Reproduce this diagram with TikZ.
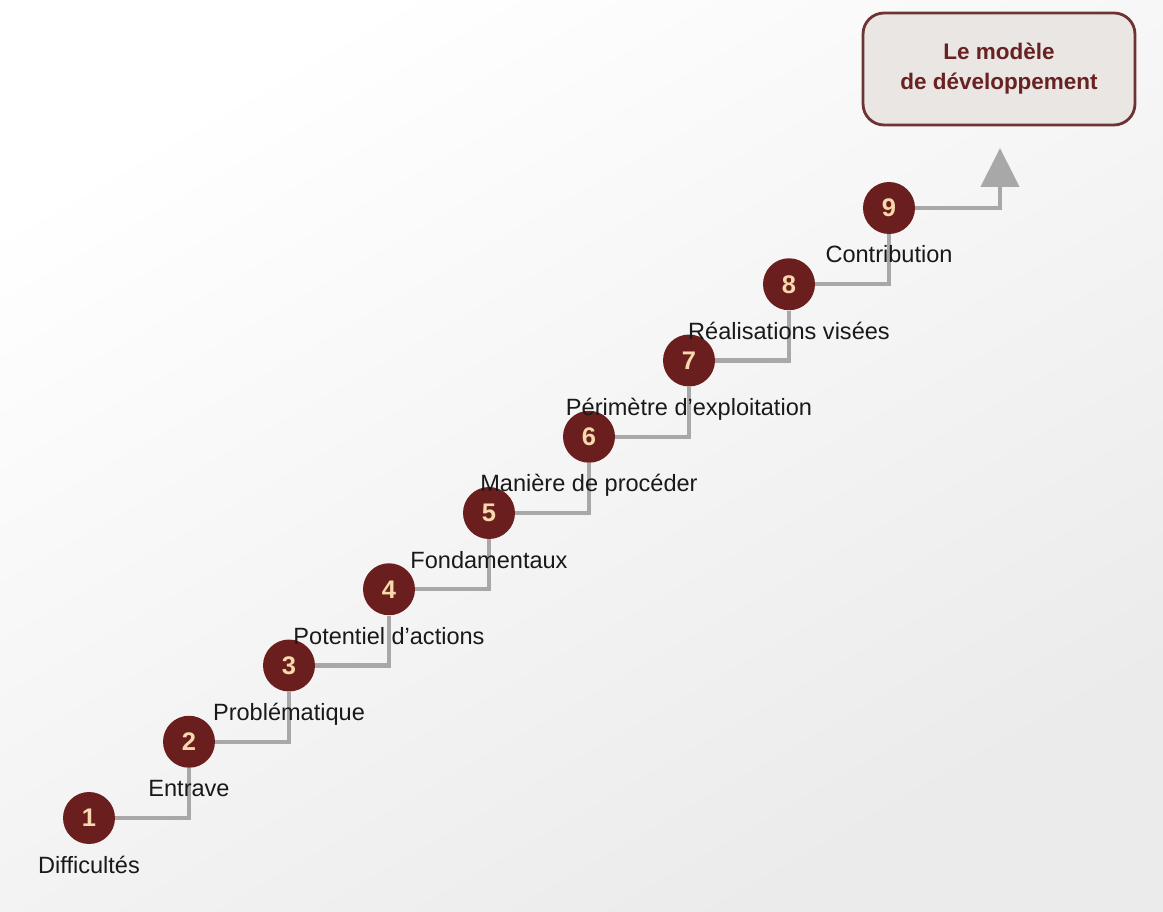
\documentclass[tikz,border=0pt]{standalone}
\usepackage{fontspec}
\setmainfont{Liberation Sans}
\usepackage{tikz}
\usetikzlibrary{arrows.meta,shapes}
\definecolor{stepred}{HTML}{6B1E1E}
\definecolor{stepnum}{HTML}{F8D9AE}
\definecolor{stairgray}{HTML}{A8A8A8}
\definecolor{boxline}{HTML}{6E3434}
\definecolor{boxfill}{HTML}{E9E6E4}
\definecolor{boxtext}{HTML}{682222}
\newcommand{\stepr}{0.52cm}
\newcommand{\stairw}{2.4pt}

\begin{document}
\begin{tikzpicture}[x=0.02cm,y=-0.02cm,
    stepdot/.style={circle, fill=stepred, minimum size=2*\stepr, inner sep=0pt,
        text=stepnum, font=\fontsize{14.5}{16}\selectfont\bfseries},
    steplabel/.style={anchor=base, font=\fontsize{13.4}{16}\selectfont, text=black!90},
    stair/.style={draw=stairgray, line width=\stairw}]
        %\draw[help lines] (0,0) grid[step=100] (1163,912);
        \shade[top color=white, bottom color=gray!16, shading angle=30]
            (0,0) rectangle (1163,912);
        \useasboundingbox (0,0) rectangle (1163,912);
        \foreach \i/\yy in {1/818, 2/741.75, 3/665.5, 4/589.25, 5/513, 6/436.75,
                7/360.5, 8/284.25, 9/208}{
            \node[stepdot] (s\i) at ({89+100*(\i-1)},\yy) {\i};
            \coordinate (t\i) at ({89+100*(\i-1)},\yy+55);
        }
        \foreach \i [evaluate=\i as \j using int(\i+1)] in {1,...,8}
            \draw[stair] (s\i) -| (s\j);
        \coordinate (tip) at (1000,148);
        \draw[stair, -{Triangle[length=0.78cm, width=0.76cm]}, stairgray] (s9) -| (tip);
        \foreach \i/\txt in {1/Difficultés, 2/Entrave, 3/Problématique, 4/Potentiel d’actions,
                5/Fondamentaux, 6/Manière de procéder, 7/Périmètre d’exploitation,
                8/Réalisations visées, 9/Contribution}
            \node[steplabel] (l\i) at (t\i) {\txt};
        \node[draw=boxline, line width=1.6pt, fill=boxfill, rounded corners=0.42cm,
            minimum width=5.44cm, minimum height=2.24cm, align=center, text=boxtext,
            font=\fontsize{12.8}{17}\selectfont\bfseries] (goal) at (999,69)
            {Le modèle\\de développement};
\end{tikzpicture}
\end{document}
